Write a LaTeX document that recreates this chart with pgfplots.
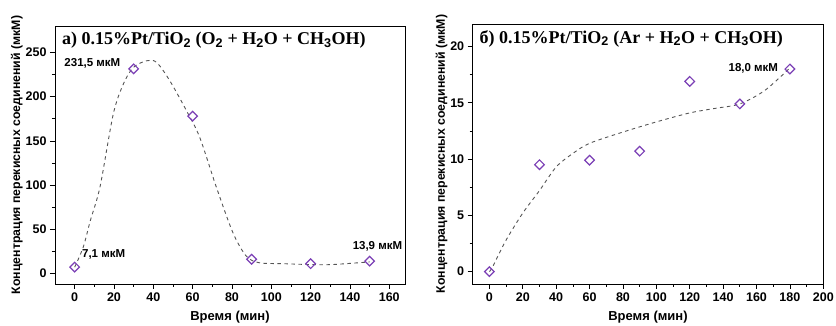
\documentclass[border=0pt]{standalone}
\usepackage{pgfplots}
\pgfplotsset{compat=1.18}
\usepackage{fontspec}
\setmainfont{Liberation Sans}
\newfontfamily\titlefont{Liberation Serif}
\definecolor{mk}{HTML}{7B3FB5}
\definecolor{fitc}{HTML}{555555}
\tikzset{
  annot/.style={font=\bfseries\fontsize{11.5}{13}\selectfont},
  ttl/.style={anchor=north west, font=\titlefont\bfseries\fontsize{18}{20}\selectfont},
}
\begin{document}
\begin{tikzpicture}
\path[use as bounding box] (0pt,0pt) rectangle (836pt,326pt);
\pgfplotsset{
  every axis/.append style={
    scale only axis,
    axis line style={line width=0.8pt},
    tick align=outside,
    xtick pos=bottom, ytick pos=left,
    major tick length=5pt, minor tick length=3pt,
    minor tick num=1,
    tick style={line width=0.7pt, black},
    /pgf/number format/assume math mode=true,
    ticklabel style={font=\bfseries\fontsize{12.5}{13}\selectfont},
    xlabel={Время (мин)},
    ylabel={Концентрация перекисных соединений (мкМ)},
    xlabel style={font=\bfseries\fontsize{13}{14}\selectfont, yshift=-3pt},
    ylabel style={font=\bfseries\fontsize{12.3}{13}\selectfont, yshift=-4pt},
  },
  mkstyle/.style={only marks, mark=square, mark size=3.4pt,
    mark options={rotate=45, draw=mk, fill=white, line width=1.2pt}},
  fitstyle/.style={smooth, color=fitc, line width=0.9pt,
    dash pattern=on 3.5pt off 3.5pt, no marks},
}
% Left panel
\begin{axis}[
  at={(55pt,42pt)}, anchor=south west, width=350pt, height=258pt,
  xmin=-10, xmax=168, ymin=-12, ymax=280,
  xtick={0,20,...,160}, ytick={0,50,...,250},
]
\addplot[fitstyle] coordinates {
 (0,7) (4.4,30) (8,60) (12.9,98) (19.6,180) (24.7,214) (29.8,233) (36.5,240.6) (41.6,239)
 (48.4,218) (56.9,184) (63.6,154) (72,98) (80.5,46) (87.3,19.5) (94,12) (106,11)
 (120,10) (131,10) (150,13)
};
\addplot[mkstyle] coordinates {(0,7.1) (30,231.5) (60,178) (90,16) (120,11) (150,13.9)};
\node[ttl] at (rel axis cs:0.01,0.99) {а) 0.15\%Pt/TiO$_\mathbf{2}$ (O$_\mathbf{2}$ + H$_\mathbf{2}$O + CH$_\mathbf{3}$OH)};
\node[annot, anchor=east] at (axis cs:25,238) {231,5 мкМ};
\node[annot, anchor=west] at (axis cs:2,21) {7,1 мкМ};
\node[annot] at (axis cs:154,31) {13,9 мкМ};
\end{axis}
% Right panel
\begin{axis}[
  at={(472.7pt,42pt)}, anchor=south west, width=350.6pt, height=260pt,
  xmin=-10, xmax=200, ymin=-1.1, ymax=22,
  xtick={0,20,...,200}, ytick={0,5,...,20},
]
\addplot[fitstyle] coordinates {
 (0,0) (2,0.45) (10,2.8) (20,5.2) (30,7.2) (40,9.3) (50,10.5) (60,11.4) (80,12.4) (100,13.3)
 (120,14.1) (135,14.5) (150,14.9) (165,16.1) (180,18.1)
};
\addplot[mkstyle] coordinates {(0,0) (30,9.5) (60,9.9) (90,10.7) (120,16.9) (150,14.9) (180,18.0)};
\node[ttl] at (rel axis cs:0.01,0.99) {б) 0.15\%Pt/TiO$_\mathbf{2}$ (Ar + H$_\mathbf{2}$O + CH$_\mathbf{3}$OH)};
\node[annot, anchor=east] at (axis cs:175,18.1) {18,0 мкМ};
\end{axis}
\end{tikzpicture}
\end{document}
